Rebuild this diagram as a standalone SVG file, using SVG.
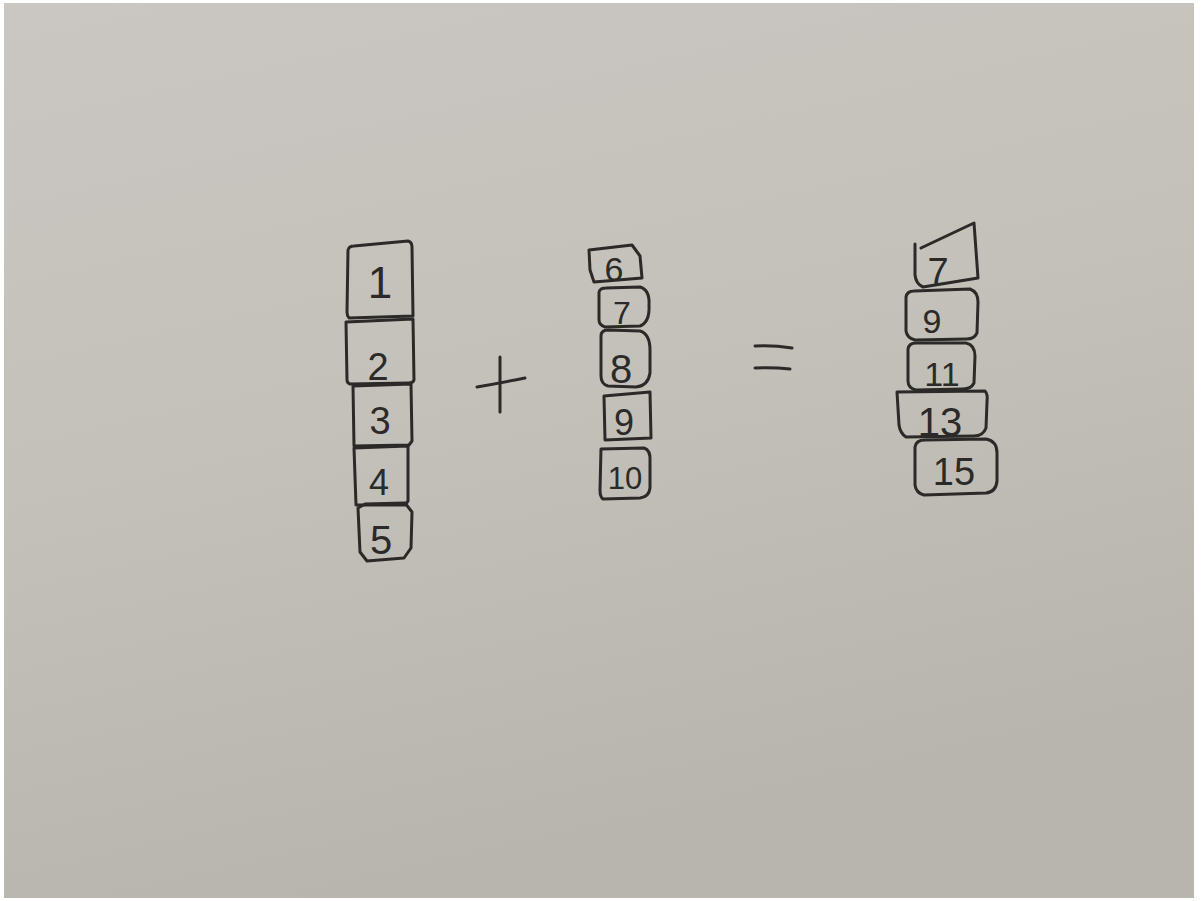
<svg xmlns="http://www.w3.org/2000/svg" width="1201" height="901" viewBox="0 0 1201 901">
<defs>
<linearGradient id="paper" x1="0" y1="0" x2="0.3" y2="1">
<stop offset="0" stop-color="#cac7c2"/>
<stop offset="0.5" stop-color="#c4c1bb"/>
<stop offset="1" stop-color="#b8b5ae"/>
</linearGradient>
<style>
.box{fill:none;stroke:#2b2a28;stroke-width:3;stroke-linejoin:round;stroke-linecap:round}
.ink{fill:none;stroke:#2b2a28;stroke-width:3;stroke-linecap:round}
.num{font-family:"Liberation Sans",Arial,sans-serif;fill:#2b2a28;text-anchor:middle;font-weight:normal}
</style>
</defs>
<rect x="0" y="0" width="1201" height="901" fill="#ffffff"/>
<rect x="4" y="3" width="1190" height="895" fill="url(#paper)"/>

<g id="left-column">
<g id="n1"><path class="box" d="M348,250 Q349,246 354,246 L408,241 Q412,242 412,247 L413,316 L349,318 Q347,316 347,312 Z"/><text class="num" x="380" y="298" font-size="44">1</text></g>
<g id="n2"><path class="box" d="M346,322 L413,319 L414,380 Q413,383 409,383 L350,384 Q347,383 347,380 Z"/><text class="num" x="378" y="380" font-size="38">2</text></g>
<g id="n3"><path class="box" d="M353,386 L411,384 L412,441 L409,445 L354,446 Z"/><text class="num" x="380" y="434" font-size="38">3</text></g>
<g id="n4"><path class="box" d="M354,448 L408,446 L408,501 L405,505 L356,505 Z"/><text class="num" x="379" y="495" font-size="36">4</text></g>
<g id="n5"><path class="box" d="M358,508 L365,504 L405,503 L412,512 L411,548 L404,558 L367,561 L360,552 Z"/><text class="num" x="381" y="554" font-size="40">5</text></g>
</g>

<g id="plus"><path class="ink" d="M500,357 L500,412"/><path class="ink" d="M477,387 Q500,383 525,378"/></g>

<g id="middle-column">
<g id="n6"><path class="box" d="M589,250 L632,245 L640,256 L642,278 L594,282 L590,270 Z"/><text class="num" x="614" y="281" font-size="34">6</text></g>
<g id="n7"><path class="box" d="M599,292 Q600,288 606,288 L640,287 Q650,290 649,305 Q650,322 640,326 L605,327 Q599,325 599,320 Z"/><text class="num" x="622" y="324" font-size="32">7</text></g>
<g id="n8"><path class="box" d="M601,336 Q601,330 608,330 L640,331 Q650,334 650,350 L650,373 Q648,386 636,387 L608,386 Q601,384 601,376 Z"/><text class="num" x="621" y="383" font-size="40">8</text></g>
<g id="n9"><path class="box" d="M604,396 L650,392 L651,438 L605,440 Z"/><text class="num" x="624" y="435" font-size="36">9</text></g>
<g id="n10"><path class="box" d="M601,449 L644,448 Q651,450 650,462 L650,488 Q649,497 640,498 L603,499 Q600,497 600,490 Z"/><text class="num" x="625" y="489" font-size="31">10</text></g>
</g>

<g id="equals"><path class="ink" d="M755,346 Q773,345 792,348"/><path class="ink" d="M755,368 Q772,367 790,369"/></g>

<g id="right-column">
<g id="r7"><path class="box" d="M921,248 L974,223 L978,278 L923,287 Q916,284 915,275 L915,244"/><text class="num" x="938" y="285" font-size="38">7</text></g>
<g id="r9"><path class="box" d="M906,297 Q907,291 914,291 L970,289 Q978,292 978,302 L977,333 Q974,339 967,339 L915,340 Q907,338 906,331 Z"/><text class="num" x="932" y="333" font-size="34">9</text></g>
<g id="r11"><path class="box" d="M908,349 Q909,343 916,343 L966,343 Q975,345 975,356 L974,383 Q971,389 963,389 L916,390 Q908,388 908,381 Z"/><text class="num" x="942" y="386" font-size="34">11</text></g>
<g id="r13"><path class="box" d="M897,392 L985,391 Q988,394 987,402 L986,428 Q983,436 974,436 L906,437 Q900,433 899,425 Z"/><text class="num" x="940" y="436" font-size="40">13</text></g>
<g id="r15"><path class="box" d="M915,447 Q916,440 925,440 L986,439 Q997,441 997,453 L997,481 Q996,492 986,493 L924,495 Q916,493 915,485 Z"/><text class="num" x="954" y="485" font-size="38">15</text></g>
</g>
</svg>
